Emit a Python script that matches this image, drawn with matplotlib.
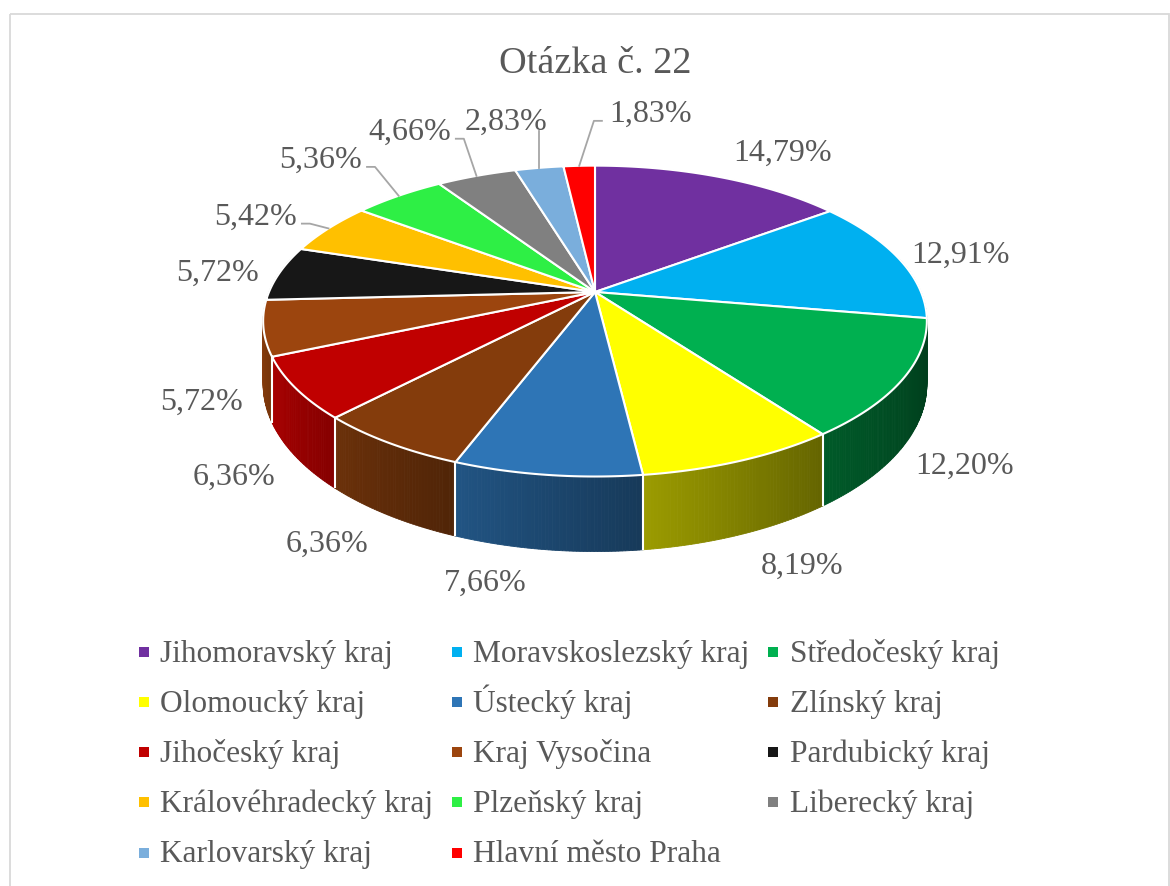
import numpy as np
import matplotlib.pyplot as plt
from matplotlib.patches import Polygon, Rectangle
from matplotlib.lines import Line2D
from matplotlib.path import Path
from matplotlib.colors import to_rgb

plt.rcParams['font.family'] = ['Liberation Serif', 'DejaVu Serif']

title = "Otázka č. 22"
regions = ["Jihomoravský kraj", "Moravskoslezský kraj", "Středočeský kraj",
           "Olomoucký kraj", "Ústecký kraj", "Zlínský kraj",
           "Jihočeský kraj", "Kraj Vysočina", "Pardubický kraj",
           "Královéhradecký kraj", "Plzeňský kraj", "Liberecký kraj",
           "Karlovarský kraj", "Hlavní město Praha"]
shares = [14.79, 12.91, 12.20, 8.19, 7.66, 6.36, 6.36, 5.72, 5.72, 5.42, 5.36, 4.66, 2.83, 1.83]
colors = ["#7030A0", "#00B0F0", "#00B050", "#FFFF00", "#2E75B6", "#843C0C",
          "#C00000", "#9C450E", "#171717", "#FFC000", "#2EEF45", "#808080",
          "#7AAEDC", "#FF0000"]

# layout of the tilted pie (pixel units)
CX, CY = 595, 293
RX, RY = 326, 150
PERSP = 0.187
DEPTH = 61
TXT = '#595959'
# extra shifts for the small labels that get leader lines
leader_shift = {9: (-11, -1), 10: (-16, -17), 11: (-5, -20), 12: (29, -20), 13: (133, -25)}


def proj(theta, down=0.0):
    X = np.sin(theta)
    Y = np.cos(theta)
    s = 1.0 / (1.0 + PERSP * Y)
    return CX + RX * X * s, CY - RY * Y * s + DEPTH * down * s


def shade(color, f):
    r, g, b = to_rgb(color)
    return (r * f, g * f, b * f)


fig = plt.figure(figsize=(11.7, 8.87), dpi=100)
ax = fig.add_axes([0, 0, 1, 1])
ax.set_xlim(0, 1170)
ax.set_ylim(887, 0)
ax.axis('off')

ax.add_patch(Rectangle((10, 15), 1159, 900, fill=False, ec='#d9d9d9', lw=1.3))

total = sum(shares)
cum = np.concatenate([[0], np.cumsum(shares)]) / total * 2 * np.pi

# side walls, drawn back to front, lit from the left
strips = []
for i, c in enumerate(colors):
    t0, t1 = cum[i], cum[i + 1]
    n = max(3, int(np.degrees(t1 - t0) * 2))
    ts = np.linspace(t0, t1, n + 1)
    for a, b in zip(ts[:-1], ts[1:]):
        m = (a + b) / 2
        if np.cos(m) > 0.25:
            continue
        u = (m - t0) / (t1 - t0)
        f = 0.64 - 0.24 * np.sin(m - np.radians(15)) + 0.12 * (u - 0.5)
        f = min(max(f, 0.36), 0.95)
        xa, ya = proj(a)
        xb, yb = proj(b)
        xc, yc = proj(b, 1)
        xd, yd = proj(a, 1)
        strips.append((np.cos(m), [(xa, ya), (xb, yb), (xc, yc), (xd, yd)], shade(c, f)))
strips.sort(key=lambda s: -s[0])
for _, pts, col in strips:
    ax.add_patch(Polygon(pts, closed=True, fc=col, ec=col, lw=0.6))

for t in cum[:-1]:
    if np.cos(t) < -PERSP:
        x0, y0 = proj(t)
        x1, y1 = proj(t, 1)
        ax.plot([x0, x1], [y0, y1], color='white', lw=1.5, solid_capstyle='butt')

# top face
for i, c in enumerate(colors):
    ts = np.linspace(cum[i], cum[i + 1], 120)
    pts = [(CX, CY)] + [proj(t) for t in ts]
    ax.add_patch(Polygon(pts, closed=True, fc=c, ec='white', lw=1.5, joinstyle='round'))

ax.text(595, 73, title, ha='center', va='baseline', fontsize=27.5, color=TXT)

# data labels
fig.canvas.draw()
renderer = fig.canvas.get_renderer()
inv = ax.transData.inverted()
for i, v in enumerate(shares):
    m = (cum[i] + cum[i + 1]) / 2
    X, Y = np.sin(m), np.cos(m)
    ax_, ay_ = proj(m, 1 if Y < 0 else 0)
    dx, dy = np.sign(X) * 62, -Y * 30
    if i in leader_shift:
        dx += leader_shift[i][0]
        dy += leader_shift[i][1]
    lx, ly = ax_ + dx, ay_ + dy
    t = ax.text(lx, ly + 10, f"{v:.2f}".replace('.', ',') + '%', ha='center',
                va='baseline', fontsize=23, color=TXT)
    if i in leader_shift:
        bb = t.get_window_extent(renderer)
        (x0, y0), (x1, y1) = inv.transform([(bb.x0, bb.y0), (bb.x1, bb.y1)])
        left, right = min(x0, x1), max(x0, x1)
        bottom = max(y0, y1)
        if abs(ax_ - lx) < (right - left) / 2 - 5:
            xs, ys = [ax_, ax_], [ay_, bottom - 4]
        elif ax_ > lx:
            xs, ys = [ax_, right + 13, right + 5], [ay_, ly + 10, ly + 10]
        else:
            xs, ys = [ax_, left - 15, left - 7], [ay_, ly + 10, ly + 10]
        ax.plot(xs, ys, color='#a6a6a6', lw=1.3)

# legend, filled row by row like the original
# square marker dropped a little so it sits level with the text
low_square = Path([(-0.5, -0.1), (0.5, -0.1), (0.5, -1.1), (-0.5, -1.1), (-0.5, -0.1)],
                  [Path.MOVETO, Path.LINETO, Path.LINETO, Path.LINETO, Path.CLOSEPOLY])
order = [0, 3, 6, 9, 12, 1, 4, 7, 10, 13, 2, 5, 8, 11]
handles = [Line2D([], [], marker=low_square, ls='', color=colors[k], markersize=15.4,
                  markeredgewidth=0) for k in order]
labels = [regions[k] for k in order]
fig.legend(handles, labels, ncol=3, loc='upper left',
           bbox_to_anchor=(136 / 1170, 1 - 632 / 887), frameon=False,
           fontsize=22.6, labelcolor=TXT, handlelength=0.5, handletextpad=0.27,
           handleheight=1.5, columnspacing=0.5, labelspacing=0.38,
           borderpad=0, borderaxespad=0)

fig.savefig('out.png', dpi=100)
